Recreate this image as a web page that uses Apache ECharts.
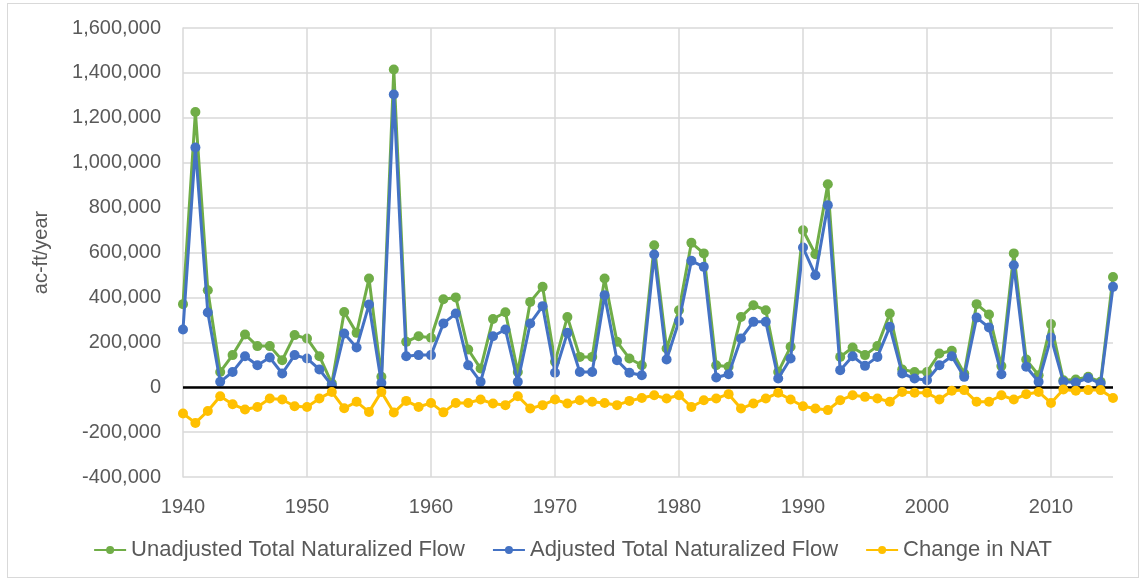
<!DOCTYPE html>
<html>
<head>
<meta charset="utf-8">
<script src="https://cdn.jsdelivr.net/npm/echarts@6/dist/echarts.min.js"></script>
<style>
html,body{margin:0;padding:0;background:#fff;}
#chart{width:1145px;height:581px;}
#frame{position:absolute;left:7px;top:3px;width:1130px;height:573px;border:1px solid #d9d9d9;pointer-events:none;}
</style>
</head>
<body>
<div id="chart"></div>
<div id="frame"></div>
<script>
const years = [];
for (let y = 1940; y <= 2015; y++) years.push(y);

const unadjusted = [
  370000,1226000,432000,68000,143000,235000,183000,183000,120000,232000,
  217000,138000,17000,335000,242000,484000,46000,1415000,202000,227000,
  220000,392000,400000,168000,83000,304000,334000,68000,380000,447000,
  113000,313000,135000,135000,484000,202000,128000,98000,632000,172000,
  343000,643000,596000,98000,91000,313000,365000,343000,68000,180000,
  699000,592000,904000,135000,177000,143000,183000,328000,79000,68000,
  68000,150000,162000,61000,370000,324000,94000,596000,123000,53000,
  281000,31000,34000,46000,24000,491000
];
const adjusted = [
  257000,1068000,333000,24000,68000,138000,98000,132000,61000,143000,
  128000,79000,8000,239000,177000,368000,19000,1304000,138000,143000,
  143000,284000,328000,98000,24000,227000,257000,24000,284000,361000,
  64000,242000,68000,68000,410000,120000,64000,53000,591000,123000,
  295000,563000,536000,43000,58000,217000,291000,291000,39000,128000,
  622000,499000,811000,76000,138000,95000,135000,269000,61000,39000,
  31000,98000,138000,46000,310000,266000,58000,543000,91000,24000,
  221000,24000,21000,41000,16000,447000
];
const changeNAT = [
  -117000,-159000,-106000,-40000,-76000,-99000,-88000,-50000,-55000,-85000,
  -88000,-50000,-21000,-94000,-65000,-110000,-21000,-113000,-61000,-88000,
  -70000,-112000,-70000,-70000,-55000,-73000,-80000,-40000,-95000,-80000,
  -55000,-73000,-58000,-65000,-70000,-80000,-61000,-48000,-36000,-50000,
  -36000,-88000,-58000,-50000,-31000,-95000,-73000,-50000,-25000,-55000,
  -85000,-95000,-102000,-58000,-36000,-43000,-50000,-65000,-21000,-25000,
  -25000,-55000,-16000,-13000,-65000,-65000,-36000,-55000,-31000,-21000,
  -70000,-10000,-16000,-13000,-13000,-48000
];
const xGridYears = [1950,1960,1970,1980,1990,2000,2010];
const names = ['Unadjusted Total Naturalized Flow','Adjusted Total Naturalized Flow','Change in NAT'];
const colors = ['#70AD47','#4472C4','#FFC000'];

const pair = arr => years.map((y,i)=>[y,arr[i]]);
const font = 'Liberation Sans, Arial, sans-serif';

const chart = echarts.init(document.getElementById('chart'));
function lineSeries(name, data, color, z){
  return {
    name, type:'line', data: pair(data), z,
    symbol:'circle', symbolSize:10, showSymbol:true,
    itemStyle:{color}, lineStyle:{color, width:3},
    emphasis:{disabled:true}, animation:false
  };
}
chart.setOption({
  animation:false,
  textStyle:{fontFamily:font},
  grid:{left:183, right:32, top:28, bottom:104},
  legend:{
    data: names, bottom:15, left:'center', itemWidth:32, itemHeight:10, itemGap:27,
    textStyle:{fontSize:22, color:'#595959', fontFamily:font}
  },
  xAxis:{
    type:'value', min:1940, max:2015, interval:10,
    axisLine:{show:false}, axisTick:{show:false}, splitLine:{show:false},
    axisLabel:{fontSize:20, color:'#595959', margin:20, showMaxLabel:false,
      formatter: v => (v % 10 === 0 ? String(v) : '')}
  },
  yAxis:{
    type:'value', min:-400000, max:1600000, interval:200000,
    name:'ac-ft/year', nameLocation:'middle', nameGap:132, nameRotate:90,
    nameTextStyle:{fontSize:20, color:'#595959'},
    axisLine:{show:true, lineStyle:{color:'#d9d9d9', width:1.5}},
    axisTick:{show:false},
    splitLine:{lineStyle:{color:'#d9d9d9', width:1.5}},
    axisLabel:{fontSize:20, color:'#595959', margin:22,
      formatter: v => v.toLocaleString('en-US')}
  },
  series:[
    {
      name:'grid', type:'line', data:[], z:1, silent:true,
      markLine:{
        silent:true, symbol:'none', label:{show:false},
        lineStyle:{color:'#d9d9d9', width:1.5, type:'solid'},
        data: xGridYears.map(y=>({xAxis:y}))
      }
    },
    {
      name:'zero', type:'line', data:[], z:1, silent:true,
      markLine:{
        silent:true, symbol:'none', label:{show:false},
        lineStyle:{color:'#000', width:2.6, type:'solid'},
        data:[{yAxis:0}]
      }
    },
    lineSeries(names[0], unadjusted, colors[0], 3),
    lineSeries(names[1], adjusted, colors[1], 4),
    lineSeries(names[2], changeNAT, colors[2], 5)
  ]
});
</script>
</body>
</html>
